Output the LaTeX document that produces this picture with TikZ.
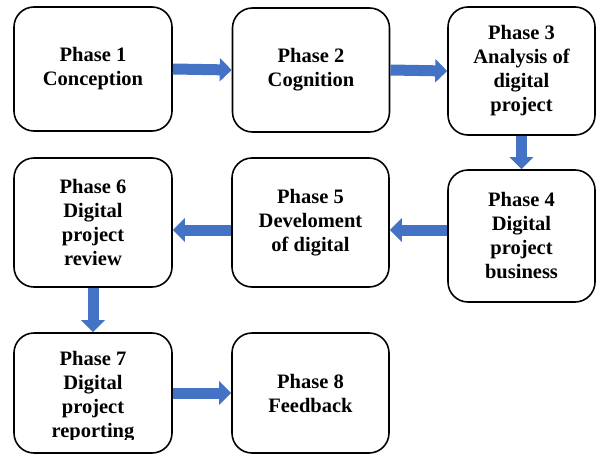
\documentclass[tikz,border=0pt]{standalone}
\usepackage{fontspec}
\setmainfont{Liberation Serif}
\usetikzlibrary{arrows.meta,positioning,calc}
\definecolor{arrowblue}{RGB}{68,114,196}

\begin{document}
\begin{tikzpicture}[x=1pt,y=-1pt,
    phase/.style={shape=rectangle,draw=black,line width=1.6pt,rounded corners=20pt,inner sep=0pt,align=center,
      font=\bfseries\fontsize{20.5}{24}\selectfont},
    phasetext/.style={inner sep=0pt,align=center,font=\bfseries\fontsize{20.5}{24}\selectfont},
    flow/.style={draw=arrowblue,line width=11pt,sharp corners,-{Triangle[length=12pt,width=23pt]}}]
    \useasboundingbox (0,0) rectangle (597,455);
    \node[phase,minimum width=158pt,minimum height=124pt] (P1) at (93,69) {Phase 1\\Conception};
    \node[phase,minimum width=157pt,minimum height=124pt] (P2) at (311,70) {Phase 2\\Cognition};
    \node[phase,minimum width=147pt,minimum height=128pt] (P3) at (521.5,71) {Phase 3\\Analysis of\\digital\\project};
    \node[phase,minimum width=147pt,minimum height=132pt] (P4) at (521.5,236) {Phase 4\\Digital\\project\\business};
    \node[phase,minimum width=157pt,minimum height=129pt] (P5) at (310.5,222.5) {Phase 5\\Develoment\\of digital};
    \node[phase,minimum width=158pt,minimum height=129pt] (P6) at (93,222.5) {Phase 6\\Digital\\project\\review};
    \node[phase,minimum width=158pt,minimum height=120pt] (P7) at (93,393) {};
    \node[phase,minimum width=157pt,minimum height=120pt] (P8) at (310.5,393) {Phase 8\\Feedback};
    % text of phase 7 runs past the box
    \begin{scope}
      \clip (0,0) rectangle (597,439);
      \node[phasetext] (P7txt) at ([yshift=-4pt]P7) {Phase 7\\Digital\\project\\reporting};
    \end{scope}
    \coordinate (a5) at ([yshift=-7.5pt]P5.east);
    \coordinate (b5) at ([yshift=-7.5pt]P5.west);
    \draw [flow] (P1.east) -- (P2.west);
    \draw [flow] (P2.east) -- (P3.west);
    \draw [flow] (P3.south) -- (P4.north);
    \draw [flow] (a5 -| P4.west) -- (a5);
    \draw [flow] (b5) -- (b5 -| P6.east);
    \draw [flow] (P6.south) -- (P7.north);
    \draw [flow] (P7.east) -- (P8.west);
\end{tikzpicture}
\end{document}
